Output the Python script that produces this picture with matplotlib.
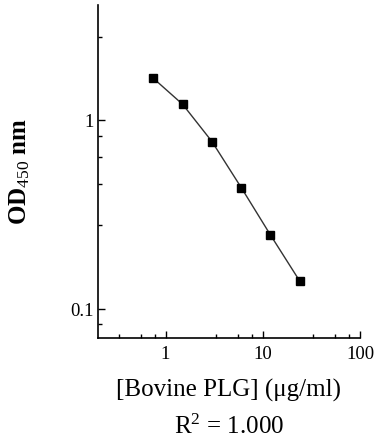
import numpy as np
import matplotlib
matplotlib.use('Agg')
from matplotlib import pyplot as plt
from matplotlib.ticker import FixedLocator, NullFormatter, FixedFormatter

# data
conc = [0.75, 1.5, 3, 6, 12, 24]          # ug/ml
od450 = [1.66, 1.21, 0.77, 0.44, 0.247, 0.141]

x_major = [1, 10, 100]
x_major_labels = ['1', '10', '100']
y_major = [0.1, 1]
y_major_labels = ['0.1', '1']

plt.rcParams['font.family'] = 'Liberation Serif'
plt.rcParams['mathtext.fontset'] = 'custom'
plt.rcParams['mathtext.rm'] = 'Liberation Serif'
plt.rcParams['mathtext.it'] = 'Liberation Serif:italic'
plt.rcParams['mathtext.bf'] = 'Liberation Serif:bold'

fig = plt.figure(figsize=(3.74, 4.40), dpi=100)
ax = fig.add_axes([0.261, 0.2325, 0.7015, 0.756])

ax.plot(conc, od450, color='#333333', lw=1.0, marker='s', ms=5.5,
        mfc='black', mec='black')

ax.set_xscale('log')
ax.set_yscale('log')
ax.set_xlim(0.2, 100)
ax.set_ylim(0.0708, 4.05)

# minor tick spots as drawn in the original software
x_minor = [d * m for d in [0.1, 1, 10] for m in [3.3, 5.6, 7.8]]
x_minor = [v for v in x_minor if 0.2 < v < 100]
y_minor = [0.084, 0.28, 0.46, 0.64, 0.82, 2.76]

ax.xaxis.set_major_locator(FixedLocator(x_major))
ax.xaxis.set_major_formatter(FixedFormatter(x_major_labels))
ax.xaxis.set_minor_locator(FixedLocator(x_minor))
ax.xaxis.set_minor_formatter(NullFormatter())
ax.yaxis.set_major_locator(FixedLocator(y_major))
ax.yaxis.set_major_formatter(FixedFormatter(y_major_labels))
ax.yaxis.set_minor_locator(FixedLocator(y_minor))
ax.yaxis.set_minor_formatter(NullFormatter())

for s in ['top', 'right']:
    ax.spines[s].set_visible(False)
for s in ['left', 'bottom']:
    ax.spines[s].set_linewidth(1.2)

ax.tick_params(which='major', direction='in', length=5, width=1, labelsize=13.5)
ax.tick_params(axis='x', which='major', pad=6)
ax.tick_params(axis='y', which='major', pad=3)
ax.tick_params(which='minor', direction='in', length=3, width=1)

ax.set_xlabel('[Bovine PLG] (\u03bcg/ml)\nR$^2$ = 1.000', fontsize=18,
              linespacing=1.63)
ax.xaxis.set_label_coords(0.5, -0.125)
ax.set_ylabel(r'$\mathbf{OD}_{450}$ $\mathbf{nm}$', fontsize=18)
ax.yaxis.set_label_coords(-0.25, 0.5)

fig.savefig('out.png', dpi=100)
